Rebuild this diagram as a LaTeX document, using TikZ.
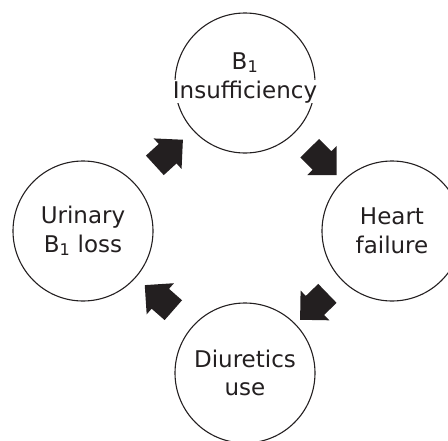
\documentclass[tikz,border=0pt]{standalone}
\usepackage{fontspec}
\setmainfont{DejaVu Sans}
\usepackage{tikz}
\usetikzlibrary{
        shapes.arrows,
        positioning
    }
\definecolor{ink}{HTML}{231F20}
\tikzset{stage/.style={circle,draw=ink,text=ink,line width=1.1pt,minimum size=140pt,inner sep=0pt,align=center,font=\fontsize{23}{28.5}\selectfont}}
\tikzset{stagetext/.style={text=ink,inner sep=0.5pt,anchor=base,font=\fontsize{23}{28.5}\selectfont}}
\tikzset{blockarrow/.style={single arrow,fill=ink,draw=none,inner xsep=0pt,inner ysep=13pt,minimum height=38pt,single arrow head extend=7.5pt,single arrow tip angle=90,sloped,allow upside down}}

\begin{document}
\begin{tikzpicture}[x=1pt,y=-1pt]
                    \useasboundingbox (0,0) rectangle (448,440);
                    \node[stage] (insuff) at (245,83) {};
                    \node[stagetext,fill=white] (insufftext) at (245,98) {Insufficiency};
                    \node[stagetext] (bone) at (245,69) {B\textsubscript{1}};
                    \node[stage] (heart) at (392,231) {Heart\\failure};
                    \node[stage] (diuretics) at (245,373) {Diuretics\\use};
                    \node[stage] (urinary) at (83,231) {Urinary\\B\textsubscript{1} loss};
                    \path
                        (insuff) -- node[blockarrow] (arrowa) {} (heart)
                        (heart) -- node[blockarrow] (arrowb) {} (diuretics)
                        (diuretics) -- node[blockarrow] (arrowc) {} (urinary)
                        (urinary) -- node[blockarrow] (arrowd) {} (insuff)
                        ;
                \end{tikzpicture}
\end{document}
